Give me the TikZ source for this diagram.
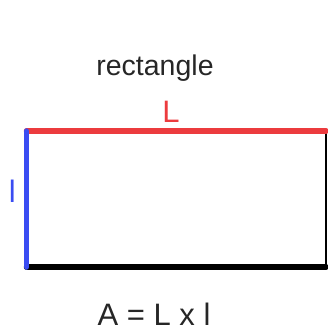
\documentclass[tikz,border=0pt]{standalone}
\usepackage{fontspec}
\setmainfont{Liberation Sans}
\usetikzlibrary{positioning}
\definecolor{sideRed}{HTML}{EC3B3E}
\definecolor{sideBlue}{HTML}{3A4CF2}
\definecolor{textGray}{HTML}{262626}

\begin{document}
\begin{tikzpicture}[
x=1pt, y=-1pt,
label/.style={inner sep=0pt, anchor=base, text=textGray},
side/.style={line width=5.5pt, line cap=round}
]
\useasboundingbox (0,0) rectangle (328,332);

% corners of the rectangle
\coordinate (tl) at (26.5,131);
\coordinate (tr) at (326,131);
\coordinate (br) at (326,267);
\coordinate (bl) at (26.5,267);

\node[label, font=\fontsize{28.5}{30}\selectfont] (title) at (155,75) {rectangle};
\node[label, text=sideRed, font=\fontsize{31}{32}\selectfont] (lenL) at (171,122) {L};
\node[label, text=sideBlue, font=\fontsize{31}{32}\selectfont] (widl) at (12.2,202) {l};
\node[label, font=\fontsize{31}{32}\selectfont] (area) at (154,325) {A = L x l};

\draw[black, line width=2.6pt] (tr) -- (br);
\draw[side, black] (bl) -- (br);
\draw[side, sideRed] (tl) -- (tr);
\draw[side, sideBlue] (tl) -- (bl);
\end{tikzpicture}
\end{document}
